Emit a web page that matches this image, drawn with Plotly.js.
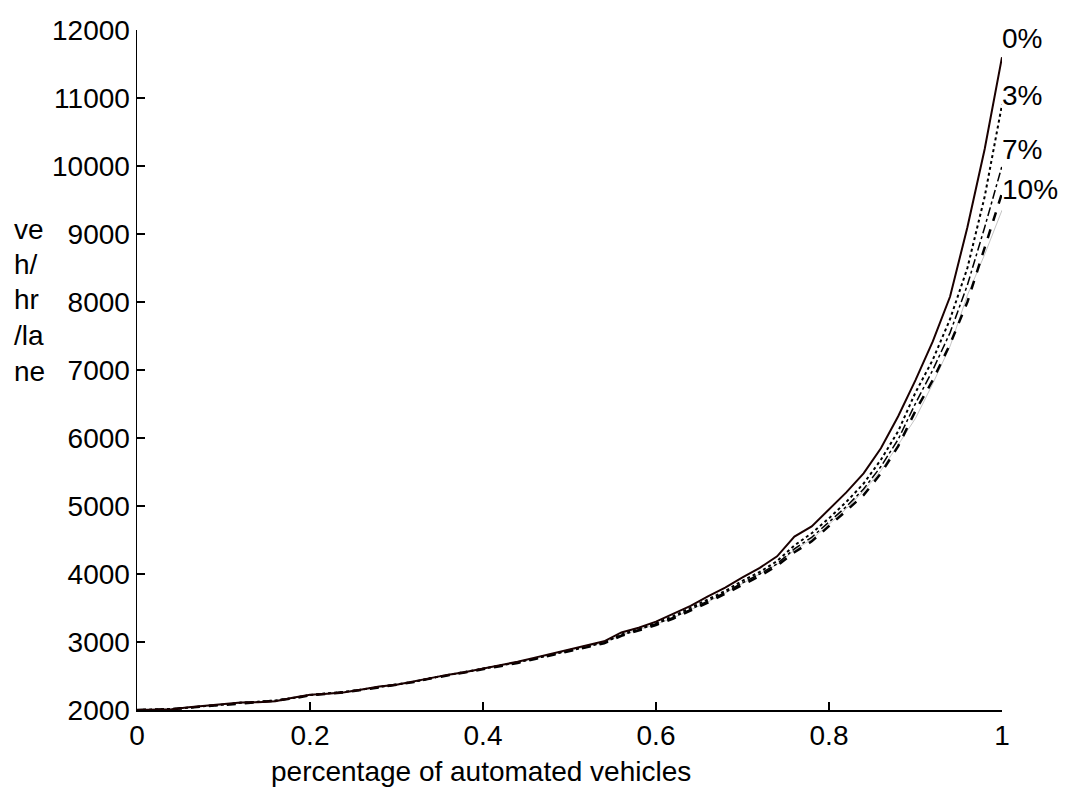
<!DOCTYPE html>
<html>
<head>
<meta charset="utf-8">
<script src="https://cdn.plot.ly/plotly-3.0.1.min.js"></script>
<style>
  html, body { margin: 0; padding: 0; background: #fff; }
  #chart { width: 1072px; height: 791px; }
</style>
</head>
<body>
<div id="chart"></div>
<script>
// x values: share of automated vehicles
const share = [0,0.02,0.04,0.06,0.08,0.1,0.12,0.14,0.16,0.18,0.2,0.22,0.24,0.26,0.28,0.3,0.32,0.34,0.36,0.38,0.4,0.42,0.44,0.46,0.48,0.5,0.52,0.54,0.56,0.58,0.6,0.62,0.64,0.66,0.68,0.7,0.72,0.74,0.76,0.78,0.8,0.82,0.84,0.86,0.88,0.9,0.92,0.94,0.96,0.98,1];

const flow0 = [2000,2000,2010,2040,2060,2080,2110,2115,2130,2180,2225,2240,2260,2300,2345,2370,2420,2480,2520,2560,2610,2650,2710,2770,2830,2880,2940,3010,3140,3210,3300,3410,3530,3670,3800,3950,4090,4260,4550,4700,4950,5200,5480,5850,6320,6850,7420,8080,9100,10250,11600];
const flow3 = [2000,2005,2015,2035,2060,2085,2105,2120,2140,2175,2220,2245,2265,2300,2340,2375,2415,2470,2515,2560,2600,2650,2700,2760,2820,2870,2930,3000,3110,3190,3280,3380,3500,3620,3750,3900,4030,4190,4420,4600,4820,5060,5330,5680,6100,6670,7150,7750,8500,9550,10900];
const flow7 = [2000,2005,2015,2040,2055,2080,2110,2120,2135,2175,2220,2240,2265,2300,2340,2370,2415,2470,2515,2555,2605,2645,2700,2755,2815,2865,2925,2990,3100,3180,3265,3360,3480,3600,3730,3870,4000,4150,4370,4540,4760,4990,5250,5580,5980,6510,7000,7550,8250,9100,10000];
const flow10 = [2000,2005,2010,2035,2055,2080,2105,2115,2135,2170,2215,2240,2260,2295,2335,2365,2410,2465,2510,2550,2600,2640,2690,2750,2805,2860,2915,2980,3090,3165,3250,3345,3460,3580,3710,3840,3970,4120,4320,4480,4700,4930,5160,5480,5880,6400,6850,7380,8000,8800,9600];
const flowGray = [2000,2005,2015,2040,2060,2085,2110,2120,2140,2180,2220,2245,2265,2300,2340,2370,2415,2470,2515,2560,2605,2645,2700,2755,2815,2870,2925,2990,3100,3175,3260,3355,3470,3590,3720,3860,3990,4140,4350,4510,4730,4960,5220,5520,5900,6290,6800,7350,8100,8700,9350];

const curveLabels = ["0%", "3%", "7%", "10%"];
const curveLabelY = [11880, 11030, 10250, 9650];
const yTitleLines = ["ve", "h/", "hr", "/la", "ne"];
const xTitle = "percentage of automated vehicles";
const xTicks = [0, 0.2, 0.4, 0.6, 0.8, 1];
const xTickText = ["0", "0.2", "0.4", "0.6", "0.8", "1"];
const yTicks = [2000,3000,4000,5000,6000,7000,8000,9000,10000,11000,12000];
const yTickText = ["2000","3000","4000","5000","6000","7000","8000","9000","10000","11000","12000"];

const FONT = "Liberation Sans, Arial, sans-serif";
const FS = 28;

const traces = [
  {x: share, y: flowGray, mode: "lines", line: {color: "#c4c4c4", width: 1}},
  {x: share, y: flow10, mode: "lines", line: {color: "#000", width: 2.5, dash: "dash"}},
  {x: share, y: flow7, mode: "lines", line: {color: "#000", width: 1.5, dash: "dashdot"}},
  {x: share, y: flow3, mode: "lines", line: {color: "#000", width: 2, dash: "dot"}},
  {x: share, y: flow0, mode: "lines", line: {color: "#1a0000", width: 2}}
];

const M = {l: 137, r: 70, t: 30, b: 81};
const plotW = 1072 - M.l - M.r, plotH = 791 - M.t - M.b;
const px2x = p => (p - M.l) / plotW;
const px2y = p => 1 - (p - M.t) / plotH;

const annotations = [];
curveLabels.forEach((t, i) => {
  annotations.push({x: 0.998, y: curveLabelY[i], xref: "x", yref: "y", text: t, showarrow: false,
    xanchor: "left", yanchor: "middle", font: {family: FONT, size: FS, color: "#000"}});
});
yTitleLines.forEach((t, i) => {
  annotations.push({x: px2x(12), y: px2y(229 + i * 35.5), xref: "paper", yref: "paper", text: t, showarrow: false,
    xanchor: "left", yanchor: "middle", font: {family: FONT, size: FS, color: "#000"}});
});
annotations.push({x: px2x(481), y: px2y(772), xref: "paper", yref: "paper", text: xTitle, showarrow: false,
  xanchor: "center", yanchor: "middle", font: {family: FONT, size: FS, color: "#000"}});

const layout = {
  width: 1072, height: 791,
  margin: M,
  paper_bgcolor: "#fff", plot_bgcolor: "#fff",
  showlegend: false,
  font: {family: FONT, size: FS, color: "#000"},
  xaxis: {
    range: [0, 1], tickvals: xTicks, ticktext: xTickText,
    showgrid: false, zeroline: false, showline: true, linecolor: "#000", linewidth: 1.5,
    ticks: "inside", ticklen: 8, tickwidth: 1.5, tickcolor: "#000",
    tickfont: {family: FONT, size: FS, color: "#000"}, mirror: false
  },
  yaxis: {
    range: [2000, 12000], tickvals: yTicks, ticktext: yTickText,
    showgrid: false, zeroline: false, showline: true, linecolor: "#000", linewidth: 1.5,
    ticks: "inside", ticklen: 8, tickwidth: 1.5, tickcolor: "#000",
    tickfont: {family: FONT, size: FS, color: "#000"}, mirror: false
  },
  annotations: annotations
};

Plotly.newPlot("chart", traces, layout, {displayModeBar: false, staticPlot: true});
</script>
</body>
</html>
